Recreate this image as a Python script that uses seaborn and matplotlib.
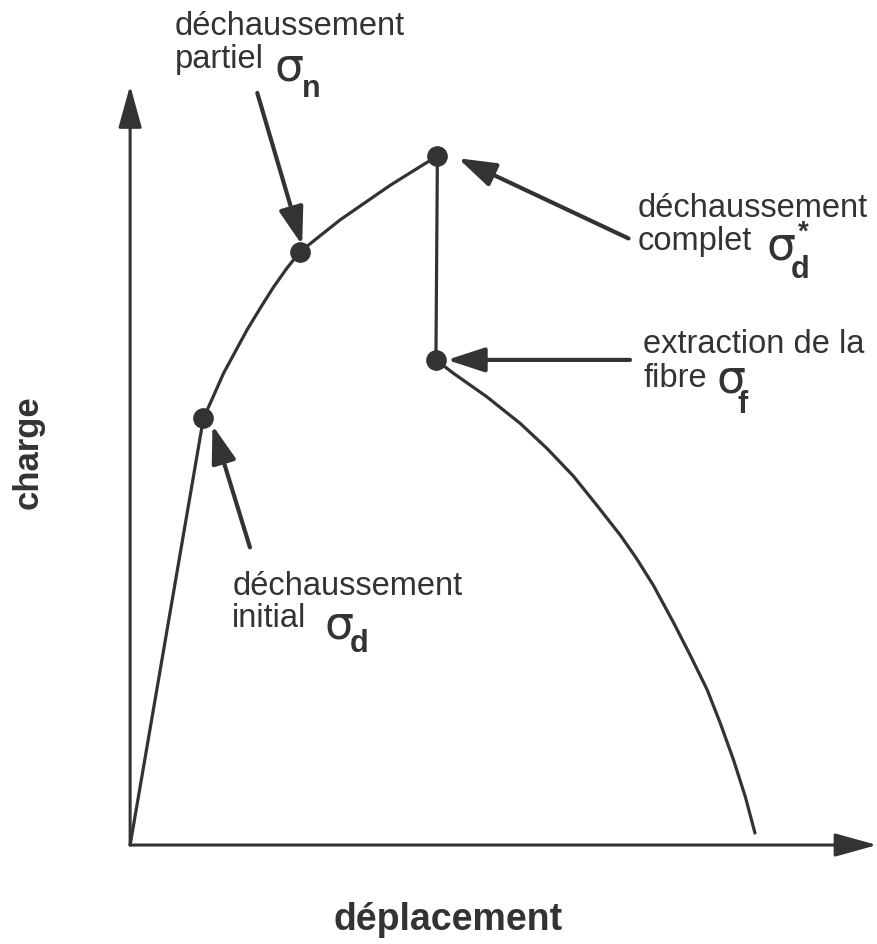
import matplotlib
matplotlib.use('Agg')
from matplotlib import pyplot as plt
import pandas as pd
import seaborn as sns

# Schematic load / displacement curve of a fibre pull-out test (arbitrary units)
rise_x = [0.0, 9.97, 11.3, 12.7, 14.3, 15.9, 17.7, 19.5, 21.3, 23.1, 25.9, 28.6,
          31.7, 35.4, 38.5, 41.8]
rise_y = [0.0, 56.9, 59.8, 62.9, 65.8, 68.7, 71.6, 74.4, 76.9, 79.1, 81.3, 83.4,
          85.5, 88.0, 89.9, 91.9]
drop_x = [41.8, 41.6]
drop_y = [91.9, 64.7]
fall_x = [41.6, 44.0, 48.5, 53.1, 56.7, 60.3, 63.5, 66.7, 68.9, 71.2, 73.9, 76.2,
          78.5, 80.3, 82.1, 83.7, 85.0]
fall_y = [64.7, 62.9, 59.8, 56.2, 52.9, 49.2, 45.3, 41.3, 38.2, 34.6, 29.7, 25.3,
          20.7, 16.2, 11.3, 6.4, 1.6]

# Marked points: initial, partial, complete debonding, fibre extraction
point_names = ['initial', 'partiel', 'complet', 'extraction']
point_x = [9.97, 23.1, 41.8, 41.6]
point_y = [56.9, 79.1, 91.9, 64.7]

x_label = 'déplacement'
y_label = 'charge'

ink = '#333333'

sns.set_theme(style='white')
plt.rcParams['font.family'] = ['Liberation Sans', 'DejaVu Sans']

fig = plt.figure(figsize=(8.77, 9.44), dpi=100)
ax = fig.add_axes([0, 0, 1, 1])
ax.set_xlim(-17.7, 101.6)
ax.set_ylim(-13.2, 112.7)
ax.axis('off')

# Axes drawn as arrows
axis_arrow = dict(arrowstyle='-|>,head_length=2.6,head_width=0.72', mutation_scale=10,
                  color=ink, lw=2.2, shrinkA=0, shrinkB=0)
ax.annotate('', xy=(101.6, 0), xytext=(0, 0), arrowprops=axis_arrow)
ax.annotate('', xy=(0, 101.3), xytext=(0, 0), arrowprops=axis_arrow)

# Curve
for xs, ys in [(rise_x, rise_y), (drop_x, drop_y), (fall_x, fall_y)]:
    seg = pd.DataFrame({'x': xs, 'y': ys})
    sns.lineplot(data=seg, x='x', y='y', sort=False, color=ink, lw=2.3, ax=ax)

pts = pd.DataFrame({'x': point_x, 'y': point_y, 'name': point_names})
sns.scatterplot(data=pts, x='x', y='y', s=190, color=ink, edgecolor=ink, zorder=5, ax=ax)

# Pointer arrows
pointer = dict(arrowstyle='-|>,head_length=2.3,head_width=0.75', mutation_scale=10,
               color=ink, lw=3.0, shrinkA=0, shrinkB=0)
ax.annotate('', xy=(23.4, 80.0), xytext=(17.3, 100.3), arrowprops=pointer)
ax.annotate('', xy=(44.6, 91.6), xytext=(67.8, 80.9), arrowprops=pointer)
ax.annotate('', xy=(43.1, 64.7), xytext=(68.0, 64.7), arrowprops=pointer)
ax.annotate('', xy=(11.2, 56.0), xytext=(16.3, 39.7), arrowprops=pointer)

txt = dict(color=ink, fontsize=23.5, va='baseline', ha='left')
sig = dict(color=ink, fontsize=33, va='baseline', ha='left', family='DejaVu Sans')
sub = dict(color=ink, fontsize=22, va='baseline', ha='left', fontweight='bold')

# partial debonding
ax.text(6.1, 108.0, 'déchaussement', **txt)
ax.text(6.1, 103.6, 'partiel', **txt)
ax.text(19.6, 102.0, 'σ', **sig)
ax.text(23.4, 99.7, 'n', **sub)

# complete debonding
ax.text(69.1, 83.7, 'déchaussement', **txt)
ax.text(69.1, 79.3, 'complet', **txt)
ax.text(86.6, 78.1, 'σ', **sig)
ax.text(89.8, 75.6, 'd', **sub)
ax.text(90.9, 83.4, '*', color=ink, fontsize=20, va='top', ha='left', fontweight='bold')

# fibre extraction
ax.text(69.8, 65.6, 'extraction de la', **txt)
ax.text(69.8, 61.1, 'fibre', **txt)
ax.text(79.8, 60.3, 'σ', **sig)
ax.text(82.6, 57.6, 'f', **sub)

# initial debonding
ax.text(13.9, 33.3, 'déchaussement', **txt)
ax.text(13.9, 29.1, 'initial', **txt)
ax.text(26.4, 27.6, 'σ', **sig)
ax.text(29.9, 25.7, 'd', **sub)

# axis titles
ax.text(-13.9, 52.4, y_label, rotation=90, color=ink, fontsize=25, fontweight='bold',
        ha='center', va='center')
ax.text(43.3, -10.0, x_label, color=ink, fontsize=27, fontweight='bold',
        ha='center', va='center')

fig.savefig('out.png', dpi=100)
